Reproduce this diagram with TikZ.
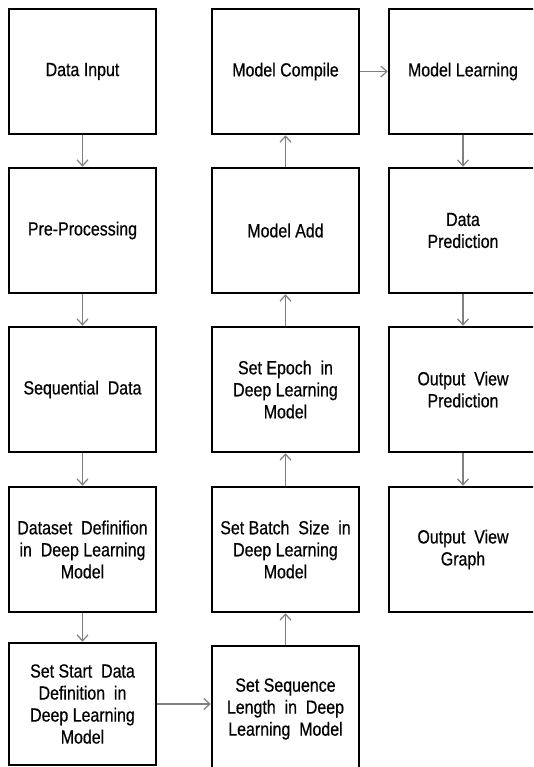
\documentclass[tikz,border=0pt]{standalone}
\usepackage{fontspec}
\setmainfont{Liberation Sans}[FakeStretch=0.84,FakeBold=0.5]
\usetikzlibrary{arrows.meta}
\newcommand{\boxfont}{\fontsize{19}{22}\selectfont}
\tikzset{
  stage/.style={draw=black, line width=2.6pt, minimum width=147pt,
    minimum height=125pt, inner sep=0pt, align=center, font=\boxfont},
  flow/.style={draw=black!50, line width=1.2pt,
    -{Straight Barb[length=6pt,width=11pt,line width=1.2pt]}},
}
\begin{document}
\begin{tikzpicture}[x=1pt,y=-1pt]
  \useasboundingbox (0,0) rectangle (533,767);
  \clip (0,0) rectangle (533,767);
  \fill[white] (0,0) rectangle (533,767);

  % first column: data preparation
  \node[stage] (input) at (82.5,71.5) {Data Input};
  \node[stage] (prep) at (82.5,230.5) {Pre-Processing};
  \node[stage] (seq) at (82.5,389.5) {Sequential\ \ Data};
  \node[stage] (dset) at (82.5,549.5) {Dataset\ \ Definifion\\in\ \ Deep\ Learning\\Model};
  \node[stage, minimum height=122pt] (start) at (82.5,704) {Set Start\ \ Data\\Definition\ \ in\\Deep Learning\\Model};

  % second column: model setup
  \node[stage, minimum height=126pt] (seqlen) at (285.5,709) {Set Sequence\\Length\ \ in\ \ Deep\\Learning\ \ Model};
  \node[stage] (batch) at (285.5,549.5) {Set Batch\ \ Size\ \ in\\Deep Learning\\Model};
  \node[stage] (epoch) at (285.5,389.5) {Set Epoch\ \ in\\Deep Learning\\Model};
  \node[stage] (add) at (285.5,230.5) {Model Add};
  \node[stage] (compile) at (285.5,71.5) {Model Compile};

  % third column: training and output
  \node[stage, minimum width=148pt] (learn) at (463,71.5) {Model Learning};
  \node[stage, minimum width=148pt] (pred) at (463,230.5) {Data\\Prediction};
  \node[stage, minimum width=148pt] (outpred) at (463,389.5) {Output\ \ View\\Prediction};
  \node[stage, minimum width=148pt] (outgraph) at (463,549.5) {Output\ \ View\\Graph};

  % connectors
  \draw[flow] (input) -- (prep);
  \draw[flow] (prep) -- (seq);
  \draw[flow] (seq) -- (dset);
  \draw[flow] (dset) -- (start);
  \draw[flow] (start) -- (seqlen.west |- start);
  \draw[flow] (seqlen) -- (batch);
  \draw[flow] (batch) -- (epoch);
  \draw[flow] (epoch) -- (add);
  \draw[flow] (add) -- (compile);
  \draw[flow] (compile) -- (learn);
  \draw[flow] (learn) -- (pred);
  \draw[flow] (pred) -- (outpred);
  \draw[flow] (outpred) -- (outgraph);
\end{tikzpicture}
\end{document}
